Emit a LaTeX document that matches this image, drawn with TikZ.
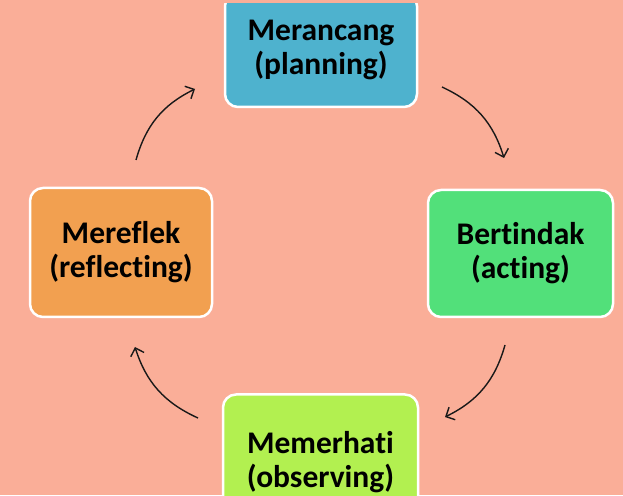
\documentclass[tikz,border=0pt]{standalone}
\usepackage{fontspec}
\setmainfont{Carlito}[Ligatures=NoCommon]
\usetikzlibrary{arrows.meta}
\definecolor{bgsalmon}{RGB}{250,174,152}
\definecolor{boxblue}{RGB}{78,178,206}
\definecolor{boxgreen}{RGB}{82,224,122}
\definecolor{boxlime}{RGB}{178,240,80}
\definecolor{boxorange}{RGB}{242,160,80}
\tikzset{
  stage/.style={draw=white, line width=2.5pt, rounded corners=13pt, align=center,
    inner sep=0pt, font=\fontsize{31.5}{34}\selectfont\bfseries, text=black},
  cyc/.style={line width=1.4pt, black!90, -{Straight Barb[length=7pt,width=14pt]}, bend left=24}
}
\begin{document}
\begin{tikzpicture}[x=1pt,y=1pt]
\useasboundingbox (0,0) rectangle (623,495);
\clip (0,0) rectangle (623,495);
\fill[bgsalmon] (0,0) rectangle (623,495);
\begin{scope}
\clip (0,0) rectangle (623,491);
\node[stage, fill=boxblue, minimum width=192pt, minimum height=114pt] (plan) at (321,445) {Merancang\\(planning)};
\end{scope}
\node[stage, fill=boxgreen, minimum width=185pt, minimum height=127pt] (act) at (520.5,241.5) {Bertindak\\(acting)};
\node[stage, fill=boxlime, minimum width=195pt, minimum height=135pt] (obs) at (320.5,33) {Memerhati\\(observing)};
\node[stage, fill=boxorange, minimum width=182pt, minimum height=129pt] (refl) at (121,242.5) {Mereflek\\(reflecting)};
\coordinate (a1s) at (442,408);
\coordinate (a1e) at (504,337);
\coordinate (a2s) at (505,150);
\coordinate (a2e) at (445,78);
\coordinate (a3s) at (198,77);
\coordinate (a3e) at (135,148);
\coordinate (a4s) at (136,335);
\coordinate (a4e) at (195,406);
\draw[cyc] (a1s) to (a1e);
\draw[cyc] (a2s) to (a2e);
\draw[cyc] (a3s) to (a3e);
\draw[cyc] (a4s) to (a4e);
\end{tikzpicture}
\end{document}
